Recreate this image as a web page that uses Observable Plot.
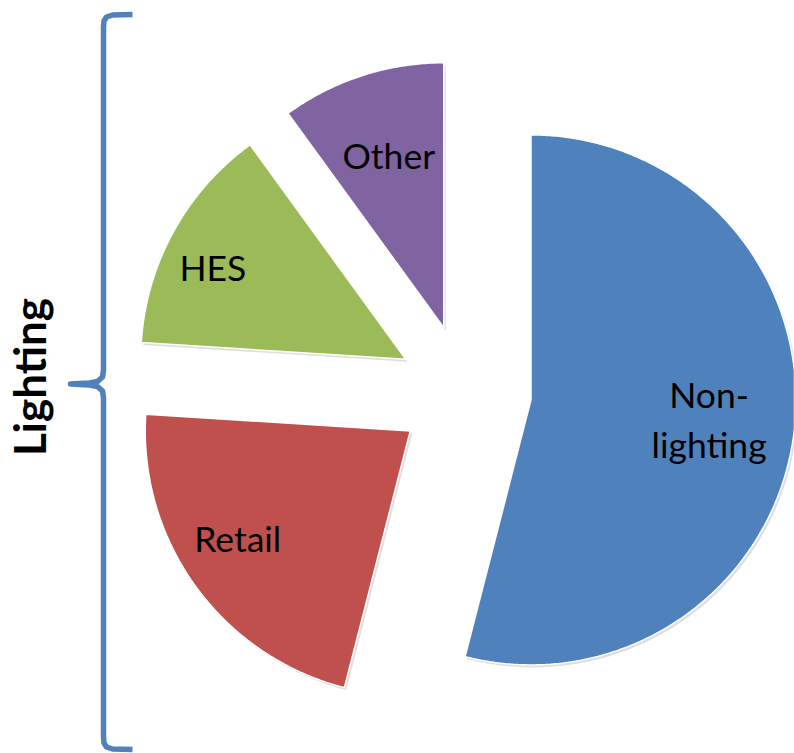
<!DOCTYPE html>
<html>
<head>
<meta charset="utf-8">
<script src="https://cdn.jsdelivr.net/npm/d3@7"></script>
<script src="https://cdn.jsdelivr.net/npm/@observablehq/plot@0.6"></script>
<style>
  html, body { margin: 0; padding: 0; background: #fff; }
</style>
</head>
<body>
<div id="chart"></div>
<script>
// ---- data ----
const categories = ["Non-lighting", "Retail", "HES", "Other"];
const labels = ["Non-\nlighting", "Retail", "HES", "Other"];
const values = [54, 22, 14, 10];
const colors = ["#4F81BD", "#C0504D", "#9BBB59", "#8064A2"];
const groupLabel = "Lighting";

// ---- layout (pixels) ----
const W = 794, H = 753;
const CX = 464, CY = 391, R = 265;       // pie centre and radius in pixels
const explode = 0.253;                   // explosion, in radius units
// label placement: radius (from slice apex) and angle tweak in degrees
const labelPlace = {
  "Non-lighting": [0.675, -1.7],
  "Retail": [0.762, 4.7],
  "HES": [0.81, -2.8],
  "Other": [0.692, 0.55]
};

const data = categories.map((c, i) => ({category: c, label: labels[i], value: values[i], color: colors[i]}));
const arcs = d3.pie().sort(null).value(d => d.value).startAngle(0)(data);

// unit coordinates: x to the right, y upward, radius = 1
const dir = a => [Math.sin(a), Math.cos(a)];
const features = [];
const labelPts = [];
for (const a of arcs) {
  const c = a.data.category;
  const ring = [];
  const mid = (a.startAngle + a.endAngle) / 2;
  const [ox, oy] = dir(mid).map(v => v * explode);
  ring.push([ox, oy]);
  const n = Math.max(2, Math.ceil((a.endAngle - a.startAngle) / (Math.PI / 360)));
  for (let k = 0; k <= n; k++) {
    const t = a.startAngle + (a.endAngle - a.startAngle) * k / n;
    const [dx, dy] = dir(t);
    ring.push([ox + dx, oy + dy]);
  }
  ring.push([ox, oy]);
  features.push({type: "Feature", properties: {category: c}, geometry: {type: "Polygon", coordinates: [ring]}});
  const [lr, lda] = labelPlace[c];
  const [lx, ly] = dir(mid + lda * Math.PI / 180).map(v => v * lr);
  labelPts.push({label: a.data.label, x: ox + lx, y: oy + ly});
}

// frame in unit coordinates
const u = px => (px - CX) / R, v = py => (CY - py) / R;
const frameRect = {type: "Polygon", coordinates: [[[u(0), v(H)], [u(W), v(H)], [u(W), v(0)], [u(0), v(0)], [u(0), v(H)]]]};

// brace, built in pixels and converted to unit coordinates
const braceX = 103, braceTop = 14.5, braceBot = 748.5, braceTipX = 70, braceMid = 383.5, hookEnd = 132;
const bracePx = [
  [hookEnd, braceTop - 0.5], [112, braceTop], [106, braceTop + 2], [braceX + 0.5, braceTop + 6], [braceX, braceTop + 12],
  [braceX, braceMid - 14], [braceX - 1, braceMid - 7], [braceX - 6, braceMid - 2.5], [braceX - 14, braceMid - 1], [braceTipX, braceMid],
  [braceX - 14, braceMid + 1], [braceX - 6, braceMid + 2.5], [braceX - 1, braceMid + 7], [braceX, braceMid + 14],
  [braceX, braceBot - 12], [braceX + 0.5, braceBot - 6], [106, braceBot - 2], [112, braceBot], [hookEnd, braceBot + 0.5]
];
const braceGeo = {type: "LineString", coordinates: bracePx.map(([x, y]) => [u(x), v(y)])};

const plot = Plot.plot({
  width: W,
  height: H,
  margin: 0,
  style: {background: "#fff", fontFamily: "Lato, 'Open Sans', sans-serif"},
  projection: {type: "reflect-y", domain: frameRect, inset: 0},
  color: {domain: categories, range: colors},
  marks: [
    Plot.geo(features, {fill: "#000", fillOpacity: 0.13, stroke: "none", dx: 2, dy: 2.5}),
    Plot.geo(features, {fill: d => d.properties.category, stroke: "white", strokeWidth: 1.5, strokeLinejoin: "miter"}),
    Plot.text(labelPts, {
      x: "x", y: "y", text: "label",
      fontSize: 35.5, lineHeight: 1.4, fill: "black",
      fontFamily: "Lato, 'Open Sans', sans-serif"
    }),
    Plot.geo([braceGeo], {
      fill: "none", stroke: colors[0], strokeWidth: 5.5,
      strokeLinejoin: "round", strokeLinecap: "butt"
    }),
    Plot.text([groupLabel], {
      frameAnchor: "left", dx: 31, rotate: -90, text: d => d,
      textAnchor: "middle",
      fontSize: 44, fontWeight: "bold", fill: "black",
      fontFamily: "Lato, 'Open Sans', sans-serif"
    })
  ]
});
document.getElementById("chart").appendChild(plot);
</script>
</body>
</html>
